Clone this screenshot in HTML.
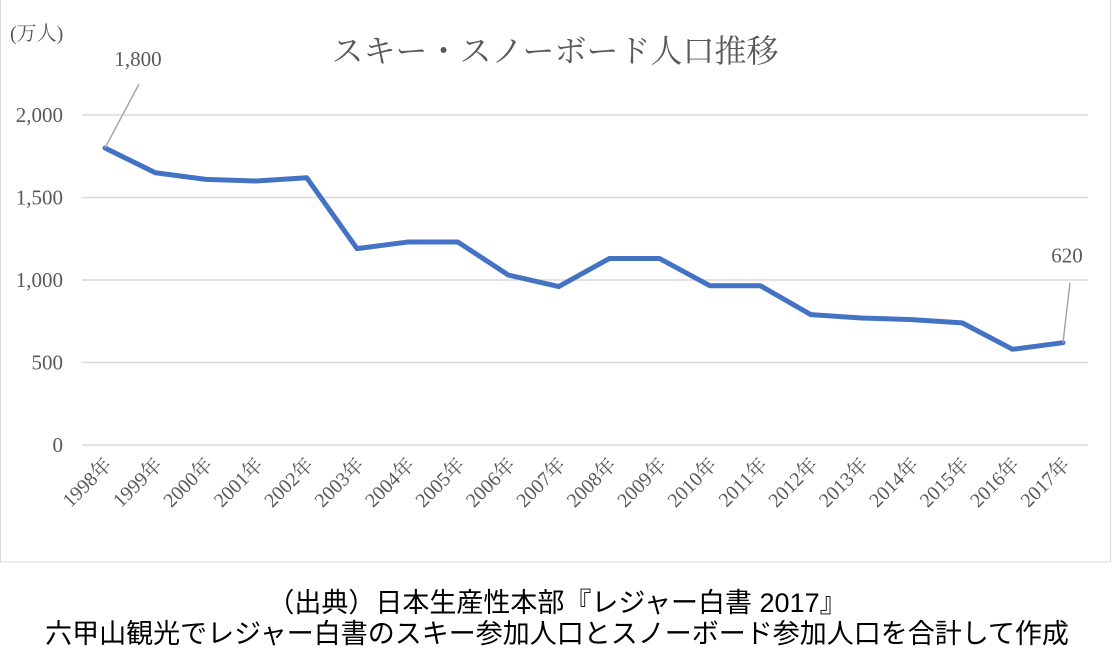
<!DOCTYPE html>
<html><head><meta charset="utf-8">
<style>
html,body{margin:0;padding:0;background:#fff;}
svg text{font-family:"Liberation Serif","Noto Serif CJK SC",serif;fill:#595959;}
.cap{font-family:"Liberation Sans","Noto Sans CJK JP",sans-serif;fill:#000;}
</style></head>
<body>
<svg width="1114" height="655" viewBox="0 0 1114 655">
<rect x="0.5" y="-2" width="1110" height="564" fill="#fff" stroke="#d9d9d9"/>
<text x="555" y="62" font-size="32" text-anchor="middle">スキー・スノーボード人口推移</text>
<text x="10" y="40" font-size="20">(万人)</text>
<g id="grid"></g><g id="ylab"></g><g id="xlab"></g><g id="series"></g>
<text class="cap" x="557" y="612" font-size="27" text-anchor="middle">（出典）日本生産性本部『レジャー白書 2017』</text>
<text class="cap" x="557" y="643" font-size="27" text-anchor="middle">六甲山観光でレジャー白書のスキー参加人口とスノーボード参加人口を合計して作成</text>
</svg>
<script>
const years=["1998年","1999年","2000年","2001年","2002年","2003年","2004年","2005年","2006年","2007年","2008年","2009年","2010年","2011年","2012年","2013年","2014年","2015年","2016年","2017年"];
const values=[1800,1650,1610,1600,1620,1190,1230,1230,1030,960,1130,1130,965,965,790,770,760,740,580,620];
const yTicks=[0,500,1000,1500,2000];
const yTickLabels=["0","500","1,000","1,500","2,000"];
const NS="http://www.w3.org/2000/svg";
const x=i=>105+i*(958/19);
const y=v=>445-v*(330/2000);
function mk(t,a,p){const e=document.createElementNS(NS,t);for(const k in a)e.setAttribute(k,a[k]);p.appendChild(e);return e;}
const grid=document.getElementById('grid'),yl=document.getElementById('ylab'),xl=document.getElementById('xlab'),s=document.getElementById('series');
yTicks.forEach((v,i)=>{
 const l=mk('line',{x1:82,x2:1088,y1:y(v),y2:y(v),stroke:'#d9d9d9','stroke-width':1.5},grid);
 
 
 const t=mk('text',{x:63,y:y(v)+7,'font-size':21,'text-anchor':'end'},yl);
 t.textContent=yTickLabels[i];
 
 
});
years.forEach((yr,i)=>{
 const t=mk('text',{x:x(i)+8,y:466,'font-size':20,'text-anchor':'end',transform:`rotate(-45 ${x(i)+8} 466)`},xl);
 t.textContent=yr;
 
 
});
const p=mk('polyline',{points:values.map((v,i)=>x(i)+','+y(v)).join(' '),fill:'none',stroke:'#4472c4','stroke-width':5,'stroke-linejoin':'round','stroke-linecap':'round'},s);


const n=values.length-1;
const l1=mk('line',{x1:x(0),y1:y(values[0]),x2:x(0)+34,y2:y(values[0])-64,stroke:'#a6a6a6','stroke-width':1.5},s);


const t1=mk('text',{x:x(0)+33,y:y(values[0])-82,'font-size':21,'text-anchor':'middle'},s);
t1.textContent=values[0].toLocaleString('en-US');


const l2=mk('line',{x1:x(n),y1:y(values[n]),x2:x(n)+7,y2:y(values[n])-60,stroke:'#a6a6a6','stroke-width':1.5},s);


const t2=mk('text',{x:x(n)+4,y:y(values[n])-80,'font-size':21,'text-anchor':'middle'},s);
t2.textContent=values[n].toLocaleString('en-US');


</script>
</body></html>
